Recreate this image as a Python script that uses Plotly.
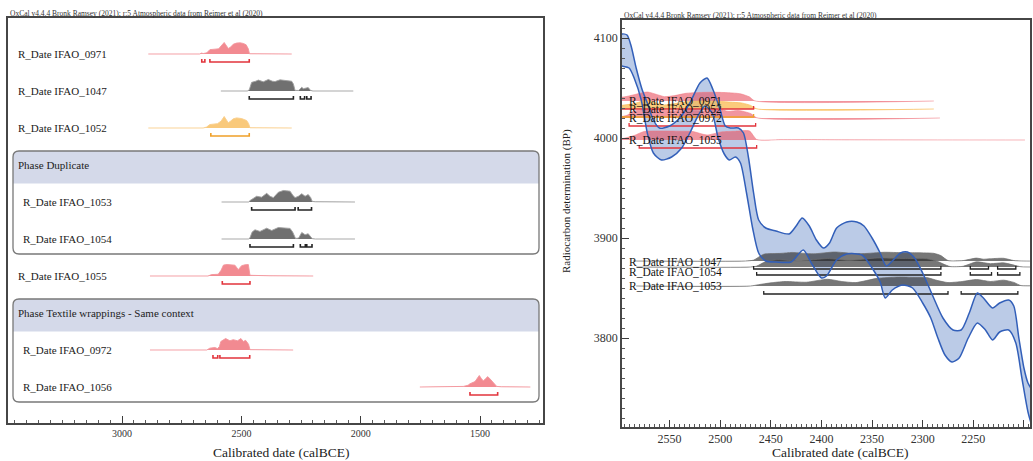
import plotly.graph_objects as go

# ---------------- data ----------------
names = ["IFAO_0971", "IFAO_1047", "IFAO_1052", "IFAO_1053", "IFAO_1054",
         "IFAO_1055", "IFAO_0972", "IFAO_1056"]
phase_names = ["Phase Duplicate", "Phase Textile wrappings - Same context"]
phase_index = [None, None, None, 0, 0, None, 1, 1]
colour_kind = ["red", "grey", "orange", "grey", "grey", "red", "red", "red"]

# measured radiocarbon ages (BP) where the dates sit on the calibration plot
bp_measured = [4037, 3877, 4029, 3852, 3871, 3998, 4020, None]

# calibrated probability distributions (calBCE, relative probability)
yr_0971 = [2890, 2845, 2834, 2823, 2745, 2736, 2727, 2675, 2667, 2660, 2645, 2632, 2611,
           2595, 2585, 2572, 2562, 2555, 2545, 2534, 2520, 2505, 2492, 2480, 2471, 2466, 2289]
p_0971 = [0, 0, 0.06, 0, 0, 0.04, 0, 0, 0.08, 0.04, 0.1, 0.38, 0.42,
          0.45, 0.7, 1.0, 0.7, 0.48, 0.6, 0.85, 0.95, 0.97, 0.92, 0.8, 0.45, 0.02, 0]

yr_1047 = [2586, 2475, 2467, 2457, 2440, 2429, 2408, 2387, 2370, 2359, 2338, 2320,
           2310, 2289, 2282, 2275, 2260, 2247, 2240, 2233, 2220, 2210, 2200, 2031]
p_1047 = [0, 0, 0.1, 0.75, 0.85, 0.95, 0.8, 1.0, 0.85, 0.82, 0.97, 0.92,
          0.92, 0.85, 0.6, 0.05, 0.05, 0.32, 0.2, 0.25, 0.3, 0.05, 0, 0]

yr_1052 = [2890, 2860, 2850, 2840, 2660, 2646, 2632, 2600, 2585, 2572, 2563, 2555,
           2545, 2534, 2520, 2499, 2478, 2470, 2464, 2289]
p_1052 = [0, 0, 0.03, 0, 0, 0.08, 0.3, 0.38, 0.6, 1.0, 0.65, 0.45,
          0.6, 0.8, 0.88, 0.82, 0.65, 0.4, 0.02, 0]

yr_1053 = [2583, 2470, 2462, 2450, 2436, 2415, 2394, 2380, 2366, 2345, 2324, 2310, 2296,
           2285, 2275, 2261, 2247, 2233, 2220, 2210, 2203, 2190, 2165, 2157, 2150, 2024]
p_1053 = [0, 0, 0.15, 0.35, 0.5, 0.42, 0.75, 0.5, 0.38, 0.85, 1.0, 0.97, 0.94,
          0.6, 0.38, 0.5, 0.72, 0.5, 0.65, 0.4, 0.05, 0.02, 0.02, 0.05, 0.01, 0]

yr_1054 = [2583, 2470, 2464, 2455, 2443, 2422, 2394, 2373, 2345, 2317, 2296, 2285,
           2280, 2273, 2260, 2247, 2233, 2220, 2203, 2190, 2024]
p_1054 = [0, 0, 0.1, 0.6, 0.8, 0.66, 0.94, 0.74, 1.0, 0.94, 0.92, 0.6,
          0.35, 0.05, 0.08, 0.57, 0.37, 0.46, 0.03, 0, 0]

yr_1055 = [2883, 2640, 2625, 2597, 2585, 2575, 2560, 2540, 2527, 2513, 2499, 2485,
           2471, 2464, 2440, 2410, 2380, 2199]
p_1055 = [0, 0, 0.12, 0.15, 0.5, 0.95, 1.0, 0.98, 0.94, 0.55, 0.9, 0.97,
          1.0, 0.06, 0.04, 0.04, 0.02, 0]

yr_0972 = [2883, 2645, 2632, 2611, 2600, 2592, 2586, 2566, 2548, 2534, 2516, 2502,
           2492, 2482, 2470, 2464, 2283]
p_0972 = [0, 0, 0.16, 0.22, 0.12, 0.3, 0.74, 1.0, 0.8, 0.9, 0.8, 1.0,
          0.74, 0.84, 0.5, 0.03, 0]

yr_1056 = [1752, 1640, 1605, 1570, 1550, 1542, 1521, 1510, 1503, 1495, 1486, 1478,
           1468, 1460, 1451, 1440, 1430, 1410, 1289]
p_1056 = [0, 0, 0.05, 0.05, 0.15, 0.28, 0.47, 0.8, 1.0, 0.75, 0.53, 0.7,
          0.9, 0.75, 0.53, 0.25, 0.05, 0.02, 0]

# highest posterior density ranges (calBCE)
rng_0971 = [[2666, 2653], [2632, 2467]]
rng_1047 = [[2467, 2282], [2253, 2235], [2226, 2208]]
rng_1052 = [[2628, 2467]]
rng_1053 = [[2457, 2275], [2262, 2206]]
rng_1054 = [[2464, 2282], [2253, 2232], [2226, 2204]]
rng_1055 = [[2580, 2464]]
rng_0972 = [[2619, 2599], [2590, 2465]]
rng_1056 = [[1542, 1426]]

# IntCal20 calibration curve band (calBCE, BP)
curve_upper_years = [2600, 2597, 2592, 2588, 2583, 2577, 2572, 2566, 2560, 2550, 2540, 2530,
                     2520, 2513, 2507, 2500, 2495, 2490, 2482, 2477, 2472, 2467, 2462, 2455,
                     2445, 2432, 2425, 2419, 2412, 2405, 2398, 2392, 2385, 2375, 2365, 2358,
                     2350, 2342, 2336, 2330, 2322, 2315, 2308, 2300, 2290, 2280, 2270, 2262,
                     2254, 2246, 2240, 2231, 2224, 2215, 2210, 2205, 2200, 2196, 2190]
curve_upper_bp = [4102, 4104, 4103, 4092, 4070, 4048, 4035, 4018, 4010, 4012, 4020, 4035,
                  4055, 4060, 4048, 4028, 4012, 4010, 4010, 4005, 3980, 3945, 3918, 3910,
                  3907, 3904, 3912, 3920, 3912, 3898, 3890, 3895, 3910, 3916, 3916, 3912,
                  3900, 3885, 3872, 3877, 3885, 3886, 3880, 3865, 3842, 3820, 3808, 3808,
                  3825, 3845, 3840, 3830, 3835, 3838, 3832, 3800, 3770, 3755, 3745]
curve_lower_years = [2600, 2597, 2590, 2585, 2578, 2572, 2566, 2558, 2548, 2538, 2530, 2522,
                     2515, 2508, 2502, 2496, 2491, 2485, 2480, 2474, 2468, 2462, 2455, 2445,
                     2430, 2418, 2410, 2400, 2395, 2385, 2375, 2360, 2350, 2342, 2337, 2330,
                     2320, 2310, 2300, 2292, 2285, 2278, 2271, 2264, 2255, 2246, 2238, 2231,
                     2224, 2215, 2208, 2202, 2196, 2190]
curve_lower_bp = [4073, 4072, 4070, 4060, 4038, 4005, 3985, 3978, 3981, 3990, 4005, 4022,
                  4032, 4025, 4000, 3984, 3978, 3981, 3975, 3945, 3910, 3885, 3877, 3876,
                  3876, 3888, 3875, 3860, 3862, 3878, 3884, 3883, 3870, 3856, 3840, 3848,
                  3853, 3850, 3835, 3820, 3800, 3783, 3776, 3780, 3800, 3815, 3808, 3798,
                  3806, 3808, 3795, 3760, 3726, 3705]

left_ticks = [3000, 2500, 2000, 1500]
right_xticks = [2550, 2500, 2450, 2400, 2350, 2300, 2250, 2200]
right_yticks = [3800, 3900, 4000, 4100]

header_text = "OxCal v4.4.4 Bronk Ramsey (2021); r:5 Atmospheric data from Reimer et al (2020)"

years = dict(zip(names, [yr_0971, yr_1047, yr_1052, yr_1053, yr_1054, yr_1055, yr_0972, yr_1056]))
probs = dict(zip(names, [p_0971, p_1047, p_1052, p_1053, p_1054, p_1055, p_0972, p_1056]))
ranges = dict(zip(names, [rng_0971, rng_1047, rng_1052, rng_1053, rng_1054, rng_1055, rng_0972, rng_1056]))

# ---------------- styles / layout geometry ----------------
W, H = 1033, 461
FONT = "Liberation Serif, Times New Roman, serif"
styles = {
    "red": dict(fill="rgba(240,118,126,0.85)", line="rgba(243,150,156,0.9)",
                bracket="rgb(226,52,60)", rfill="rgba(232,80,95,0.6)",
                rline="rgba(240,120,130,0.55)"),
    "orange": dict(fill="rgba(248,196,112,0.92)", line="rgba(249,206,140,0.9)",
                   bracket="rgb(240,160,40)", rfill="rgba(250,185,80,0.75)",
                   rline="rgba(250,190,90,0.7)"),
    "grey": dict(fill="rgba(100,100,100,0.92)", line="rgba(160,160,160,0.9)",
                 bracket="rgb(35,35,35)", rfill="rgba(35,35,35,0.62)",
                 rline="rgba(110,110,110,0.7)"),
}
PX_SLOT = 37.0
L_H = 11.5 / PX_SLOT      # left distribution height (slot units)
L_BOFF = 8.0 / PX_SLOT    # bracket offset below baseline
L_TICK = 3.0 / PX_SLOT
R_H = 9.0                 # right distribution height (BP units)
R_BOFF = 8.0
R_TICK = 3.0

# slot layout of the multiplot
slot_of = {}
header_slots = []
s = 0
current = None
for i, nm in enumerate(names):
    ph = phase_index[i]
    if ph is not None and ph != current:
        header_slots.append((ph, s))
        s += 1
    current = ph
    slot_of[nm] = s
    s += 1

fig = go.Figure()


def bracket_xy(rngs, base, off, tick, sign):
    xs, ys = [], []
    for a, b in rngs:
        yb = base + sign * off
        yt = yb - sign * tick
        xs += [a, a, b, b, None]
        ys += [yt, yb, yb, yt, None]
    return xs, ys


# ---- left panel: distributions ----
for i, nm in enumerate(names):
    st = styles[colour_kind[i]]
    base = slot_of[nm]
    fig.add_trace(go.Scatter(
        x=years[nm], y=[base - L_H * p for p in probs[nm]],
        mode="lines", fill="toself", fillcolor=st["fill"],
        line=dict(color=st["line"], width=1), hoverinfo="skip",
        xaxis="x", yaxis="y", showlegend=False))
    bx, by = bracket_xy(ranges[nm], base, L_BOFF, L_TICK, +1)
    fig.add_trace(go.Scatter(
        x=bx, y=by, mode="lines", line=dict(color=st["bracket"], width=1.6),
        hoverinfo="skip", xaxis="x", yaxis="y", showlegend=False))

# ---- right panel: calibration band fill ----
fig.add_trace(go.Scatter(x=curve_upper_years, y=curve_upper_bp, mode="lines",
                         line=dict(width=0, shape="spline", smoothing=0.7),
                         hoverinfo="skip", xaxis="x2", yaxis="y2", showlegend=False))
fig.add_trace(go.Scatter(x=curve_lower_years, y=curve_lower_bp, mode="lines",
                         fill="tonexty", fillcolor="rgba(150,175,218,0.65)",
                         line=dict(width=0, shape="spline", smoothing=0.7),
                         hoverinfo="skip", xaxis="x2", yaxis="y2", showlegend=False))

# ---- right panel: distributions at measured BP ----
for i, nm in enumerate(names):
    bp = bp_measured[i]
    if bp is None:
        continue
    st = styles[colour_kind[i]]
    fig.add_trace(go.Scatter(
        x=years[nm], y=[bp + R_H * p for p in probs[nm]],
        mode="lines", fill="toself", fillcolor=st["rfill"],
        line=dict(color=st["rline"], width=1, shape="spline", smoothing=0.6),
        hoverinfo="skip", xaxis="x2", yaxis="y2", showlegend=False))
for i, nm in enumerate(names):
    bp = bp_measured[i]
    if bp is None:
        continue
    st = styles[colour_kind[i]]
    bx, by = bracket_xy(ranges[nm], bp, R_BOFF, R_TICK, -1)
    fig.add_trace(go.Scatter(
        x=bx, y=by, mode="lines", line=dict(color=st["bracket"], width=1.3),
        hoverinfo="skip", xaxis="x2", yaxis="y2", showlegend=False))

# ---- right panel: curve outlines ----
for xs, ys in [(curve_upper_years, curve_upper_bp), (curve_lower_years, curve_lower_bp)]:
    fig.add_trace(go.Scatter(x=xs, y=ys, mode="lines",
                             line=dict(color="rgb(50,95,185)", width=1.5,
                                       shape="spline", smoothing=0.7),
                             hoverinfo="skip", xaxis="x2", yaxis="y2", showlegend=False))

# ---- phase boxes (shapes) ----
shapes = []


def rounded(x0, x1, y0, y1, rx, ry, top_only=False):
    if top_only:
        return (f"M {x0},{y1} L {x0},{y0+ry} Q {x0},{y0} {x0+rx},{y0} "
                f"L {x1-rx},{y0} Q {x1},{y0} {x1},{y0+ry} L {x1},{y1} Z")
    return (f"M {x0+rx},{y0} L {x1-rx},{y0} Q {x1},{y0} {x1},{y0+ry} "
            f"L {x1},{y1-ry} Q {x1},{y1} {x1-rx},{y1} L {x0+rx},{y1} "
            f"Q {x0},{y1} {x0},{y1-ry} L {x0},{y0+ry} Q {x0},{y0} {x0+rx},{y0} Z")


LW = 543 - 8
bx0 = (13 - 8) / LW
bx1 = (539 - 8) / LW
rx = 6 / LW
ry = 6 / PX_SLOT
annotations = []
for ph, hs in header_slots:
    members = [slot_of[nm] for i, nm in enumerate(names) if phase_index[i] == ph]
    top = hs - 14 / PX_SLOT
    band_bot = hs + 18.5 / PX_SLOT
    bot = max(members) + 15 / PX_SLOT
    shapes.append(dict(type="path", xref="x domain", yref="y",
                       path=rounded(bx0, bx1, top, band_bot, rx, ry, top_only=True),
                       fillcolor="rgb(212,217,233)", line=dict(width=0), layer="below"))
    shapes.append(dict(type="path", xref="x domain", yref="y",
                       path=rounded(bx0, bx1, top, bot, rx, ry),
                       fillcolor="rgba(0,0,0,0)", line=dict(color="rgb(120,120,120)", width=1.3),
                       layer="below"))
    annotations.append(dict(text=phase_names[ph], xref="x domain", yref="y",
                            x=(16 - 8) / LW, y=hs, xanchor="left", yanchor="middle",
                            showarrow=False, font=dict(family=FONT, size=11, color="#222")))

# row labels (left)
for i, nm in enumerate(names):
    xpx = 16 if phase_index[i] is None else 21
    annotations.append(dict(text="R_Date " + nm, xref="x domain", yref="y",
                            x=(xpx - 8) / LW, y=slot_of[nm], xanchor="left", yanchor="middle",
                            showarrow=False, font=dict(family=FONT, size=11, color="#222")))

# row labels (right)
label_shift = {"IFAO_1054": -5, "IFAO_1047": -1}
for i, nm in enumerate(names):
    bp = bp_measured[i]
    if bp is None:
        continue
    annotations.append(dict(text="R_Date " + nm, xref="x2 domain", yref="y2",
                            x=5 / 408, y=bp, xanchor="left", yanchor="middle",
                            yshift=label_shift.get(nm, 0),
                            showarrow=False, font=dict(family=FONT, size=11.5, color="#111")))

# header texts
annotations.append(dict(text=header_text, xref="paper", yref="paper", x=8 / W, y=1 - 13.5 / H,
                        xanchor="left", yanchor="middle", showarrow=False,
                        font=dict(family=FONT, size=7.5, color="#333")))
annotations.append(dict(text=header_text, xref="paper", yref="paper", x=622 / W, y=1 - 15.5 / H,
                        xanchor="left", yanchor="middle", showarrow=False,
                        font=dict(family=FONT, size=7.5, color="#333")))
# axis titles
annotations.append(dict(text="Calibrated date (calBCE)", xref="paper", yref="paper",
                        x=281 / W, y=1 - 452 / H, xanchor="center", yanchor="middle",
                        showarrow=False, font=dict(family=FONT, size=13.5, color="#222")))
annotations.append(dict(text="Calibrated date (calBCE)", xref="paper", yref="paper",
                        x=840 / W, y=1 - 452 / H, xanchor="center", yanchor="middle",
                        showarrow=False, font=dict(family=FONT, size=13.5, color="#222")))
annotations.append(dict(text="Radiocarbon determination (BP)", xref="paper", yref="paper",
                        x=566 / W, y=1 - 201 / H, xanchor="center", yanchor="middle",
                        textangle=-90, showarrow=False,
                        font=dict(family=FONT, size=11, color="#222")))

frame = dict(showline=True, mirror=True, linecolor="rgb(70,70,70)", linewidth=1.6,
             showgrid=False, zeroline=False)

fig.update_layout(
    width=W, height=H, margin=dict(l=0, r=0, t=0, b=0),
    paper_bgcolor="white", plot_bgcolor="white", showlegend=False,
    xaxis=dict(domain=[8 / W, 543 / W], range=[3478, 1236], anchor="y",
               tickmode="array", tickvals=left_ticks, ticks="inside", ticklen=7,
               tickcolor="rgb(60,60,60)", tickwidth=1.3,
               tickfont=dict(family=FONT, size=10, color="#333"),
               minor=dict(tick0=0, dtick=50, ticks="inside", ticklen=3.5,
                          tickcolor="rgb(90,90,90)"),
               **frame),
    yaxis=dict(domain=[1 - 423 / H, 1 - 18 / H], range=[9 + 36 / PX_SLOT, -36 / PX_SLOT],
               anchor="x", showticklabels=False, ticks="", **frame),
    xaxis2=dict(domain=[622 / W, 1030 / W], range=[2597, 2194], anchor="y2",
                tickmode="array", tickvals=right_xticks, ticks="inside", ticklen=7,
                tickcolor="rgb(60,60,60)", tickwidth=1.3,
                tickfont=dict(family=FONT, size=12, color="#333"),
                minor=dict(tick0=0, dtick=5, ticks="inside", ticklen=3,
                           tickcolor="rgb(90,90,90)"),
                **frame),
    yaxis2=dict(domain=[1 - 427 / H, 1 - 20 / H], range=[3711, 4118], anchor="x2",
                tickmode="array", tickvals=right_yticks, ticks="inside", ticklen=7,
                tickcolor="rgb(60,60,60)", tickwidth=1.3,
                tickfont=dict(family=FONT, size=12, color="#333"),
                minor=dict(tick0=0, dtick=10, ticks="inside", ticklen=3,
                           tickcolor="rgb(90,90,90)"),
                **frame),
    shapes=shapes, annotations=annotations,
)

fig.write_html("out.html", config={"displayModeBar": False},
               post_script="document.body.style.margin='0';document.documentElement.style.overflow='hidden';")
